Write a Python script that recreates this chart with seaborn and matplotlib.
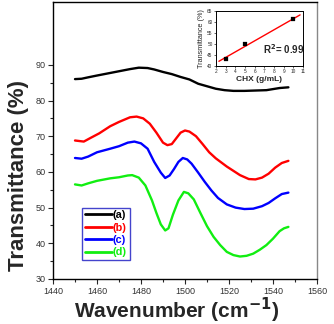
import numpy as np
import pandas as pd
import matplotlib
matplotlib.use("Agg")
import matplotlib.pyplot as plt
import seaborn as sns
from matplotlib.lines import Line2D

# ---------------- data ----------------
x_a = [1450, 1453, 1456, 1460, 1465, 1470, 1475, 1479, 1483, 1486, 1490, 1494, 1498,
       1502, 1506, 1510, 1514, 1518, 1522, 1527, 1532, 1537, 1540, 1543, 1547]
y_a = [86.0, 86.1, 86.5, 87.0, 87.6, 88.2, 88.8, 89.2, 89.1, 88.7, 88.0, 87.4, 86.6,
       85.9, 84.7, 84.0, 83.3, 82.9, 82.7, 82.7, 82.8, 82.9, 83.2, 83.5, 83.7]

x_b = [1450, 1454, 1457, 1461, 1466, 1470, 1475, 1478, 1481, 1484, 1487, 1490, 1492,
       1494, 1496, 1498, 1500, 1502, 1505, 1508, 1511, 1514, 1519, 1525, 1529, 1532,
       1535, 1538, 1541, 1544, 1547]
y_b = [68.8, 68.5, 69.5, 70.8, 72.8, 74.0, 75.3, 75.5, 75.0, 73.5, 71.0, 68.2, 67.5,
       67.8, 69.4, 71.0, 71.6, 71.3, 70.0, 67.8, 65.5, 63.8, 61.5, 59.1, 58.0, 57.9,
       58.4, 59.5, 61.2, 62.5, 63.1]

x_c = [1450, 1453, 1456, 1460, 1466, 1470, 1474, 1477, 1480, 1483, 1486, 1489, 1491,
       1493, 1495, 1497, 1499, 1501, 1503, 1506, 1509, 1512, 1515, 1519, 1523, 1527,
       1531, 1535, 1538, 1541, 1544, 1547]
y_c = [63.9, 63.7, 64.3, 65.5, 66.5, 67.2, 68.2, 68.5, 68.0, 66.5, 62.8, 59.8, 58.3,
       59.0, 60.8, 62.8, 63.9, 63.5, 62.3, 59.8, 57.2, 54.8, 52.7, 50.9, 50.0, 49.6,
       49.7, 50.4, 51.3, 52.6, 53.8, 54.2]

x_d = [1450, 1453, 1456, 1460, 1466, 1470, 1474, 1476, 1479, 1482, 1485, 1487, 1489,
       1491, 1492.5, 1494.5, 1497, 1499.5, 1501.5, 1504, 1507, 1510, 1513, 1516, 1519,
       1522, 1525, 1528, 1531, 1534, 1537, 1540, 1543, 1545, 1547]
y_d = [56.5, 56.2, 56.8, 57.5, 58.2, 58.5, 59.0, 59.1, 58.4, 56.2, 52.0, 48.5, 45.3,
       43.6, 44.2, 48.0, 52.0, 54.4, 54.0, 52.3, 48.5, 44.8, 41.8, 39.5, 37.6,
       36.7, 36.3, 36.5, 37.1, 38.2, 39.5, 41.3, 43.4, 44.2, 44.6]

labels = ["(a)", "(b)", "(c)", "(d)"]
colors = ["#000000", "#ff0000", "#0000ff", "#11ee11"]

x_ticks = [1440, 1460, 1480, 1500, 1520, 1540, 1560]
y_ticks = [30, 40, 50, 60, 70, 80, 90]

chx = [3, 5, 10]
chx_t = [43.2, 49.9, 61.2]
inset_xticks = [2, 3, 4, 5, 6, 7, 8, 9, 10, 11]
inset_yticks = [40, 45, 50, 55, 60, 65]

# ---------------- frame ----------------
frames = []
for lab, xs, ys in zip(labels, [x_a, x_b, x_c, x_d], [y_a, y_b, y_c, y_d]):
    frames.append(pd.DataFrame({"wn": xs, "T": ys, "s": lab}))
df = pd.concat(frames, ignore_index=True)

sns.set_style("ticks")
plt.rcParams["font.family"] = ["Liberation Sans", "DejaVu Sans"]

fig = plt.figure(figsize=(3.34, 3.24), dpi=100)
ax = fig.add_axes([53 / 334, 1 - 279 / 324, 264 / 334, 277 / 324])

sns.lineplot(data=df, x="wn", y="T", hue="s", palette=dict(zip(labels, colors)),
             sort=False, estimator=None, linewidth=1.7, legend=False, ax=ax)

ax.set_xlim(1440, 1560)
ax.set_ylim(30, 107.6)
ax.set_xticks(x_ticks)
ax.set_yticks(y_ticks)
ax.set_xticks(np.arange(1450, 1560, 20), minor=True)
ax.set_yticks(np.arange(35, 95, 10), minor=True)
ax.tick_params(axis="both", which="major", direction="out", length=3.5, width=0.8,
               labelsize=6.5, labelcolor="#333333", pad=2, top=False, right=False)
ax.tick_params(axis="both", which="minor", direction="out", length=2, width=0.8,
               top=False, right=False)
for s in ax.spines.values():
    s.set_linewidth(1.0)
    s.set_visible(True)
    s.set_color("black")
ax.spines["right"].set_color("#888888")

ax.set_xlabel("Wavenumber (cm$^{\\mathbf{-1}}$)", fontsize=15, fontweight="bold")
ax.set_ylabel("Transmittance (%)", fontsize=16, fontweight="bold")
ax.xaxis.set_label_coords(0.47, -0.062)
ax.yaxis.set_label_coords(-0.092, 0.375)

handles = [Line2D([0], [0], color=c, lw=2.0) for c in colors]
leg = ax.legend(handles, labels, loc="upper left", bbox_to_anchor=(0.11, 0.258),
                borderaxespad=0, prop={"weight": "bold", "size": 7.8},
                handlelength=2.5, handletextpad=0.1, labelspacing=0.22,
                borderpad=0.25, fancybox=False, framealpha=1, edgecolor="#4444cc")
leg.get_frame().set_linewidth(1.0)
for t, c in zip(leg.get_texts(), colors):
    t.set_color(c)

# ---------------- inset ----------------
ins = fig.add_axes([216 / 334, 1 - 66 / 324, 87 / 334, 55 / 324])
ins.set_xlim(2, 11)
ins.set_ylim(40, 65)
sns.scatterplot(x=chx, y=chx_t, marker="s", s=5, color="black", edgecolor="black",
                ax=ins, zorder=3)
slope, icpt = np.polyfit(chx, chx_t, 1)
fx = np.array([2.3, 10.7])
sns.lineplot(x=fx, y=slope * fx + icpt, color="red", linewidth=1.0, ax=ins)
ins.set_xticks(inset_xticks)
ins.set_yticks(inset_yticks)
ins.tick_params(axis="both", direction="out", length=1.5, width=0.5, labelsize=3.4, pad=1)
for s in ins.spines.values():
    s.set_linewidth(0.7)
    s.set_visible(True)
    s.set_color("black")
ins.set_xlabel("CHX (g/mL)", fontsize=6, fontweight="bold", labelpad=1)
ins.set_ylabel("Transmittance (%)", fontsize=5.2, labelpad=1.5)
ins.text(0.54, 0.22, "R$^\\mathbf{2}$= 0.99", transform=ins.transAxes, fontsize=7,
         fontweight="bold")

fig.savefig("out.png", dpi=100)
